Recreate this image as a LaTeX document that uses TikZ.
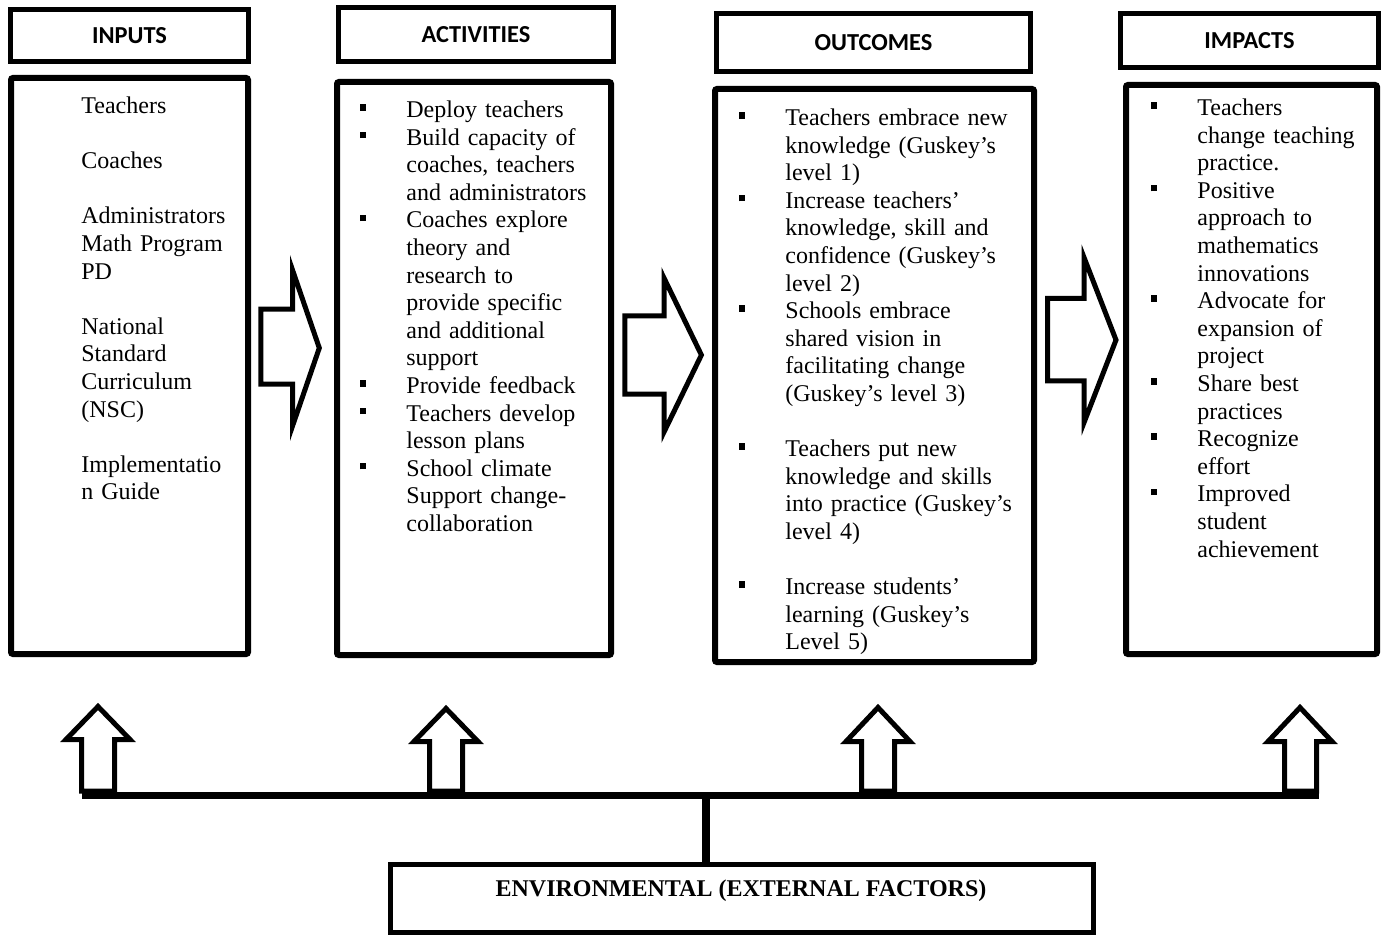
\documentclass[tikz,border=0pt]{standalone}
\usepackage{fontspec}
\setmainfont{Liberation Serif}
\newfontfamily\hdfont{Carlito}
\newcommand{\bul}{\leavevmode\llap{\rule[3.4pt]{3.2pt}{3.2pt}\hspace{20pt}}}
\newcommand{\blankline}{\mbox{}}
\tikzset{
  hdbox/.style={draw, line width=2.5pt, inner sep=0pt, font=\hdfont\bfseries\fontsize{12.2}{14}\selectfont},
  ctbox/.style={draw, line width=3pt, inner sep=0pt, rounded corners=1pt},
  bodytext/.style={anchor=north west, inner sep=0pt, text width=150pt, align=left, font=\fontsize{12}{13.8}\selectfont},
  bigarrow/.style={draw, line width=2.5pt, line join=miter, fill=white},
}
\begin{document}
\begin{tikzpicture}[x=0.5pt, y=-0.5pt]
\useasboundingbox (0,0) rectangle (1384,935);
% header boxes
\node[hdbox, minimum width=119pt, minimum height=26pt] (hin) at (129.5,35.5) {INPUTS};
\node[hdbox, minimum width=137.5pt, minimum height=27pt] (hact) at (476,34.5) {ACTIVITIES};
\node[hdbox, minimum width=157pt, minimum height=29pt] (hout) at (873.5,42.5) {OUTCOMES};
\node[hdbox, minimum width=129pt, minimum height=27pt] (himp) at (1249.5,40.5) {IMPACTS};
% content boxes
\node[ctbox, minimum width=118.5pt, minimum height=288pt] (bin) at (129.5,366) {};
\node[ctbox, minimum width=137pt, minimum height=286.5pt] (bact) at (474,368.5) {};
\node[ctbox, minimum width=159.5pt, minimum height=286.5pt] (bout) at (874.5,375.5) {};
\node[ctbox, minimum width=125.5pt, minimum height=284.5pt] (bimp) at (1251.5,369.5) {};
% texts
\node[bodytext] (tin) at (81,93.7) {\strut Teachers\\ \blankline\\ Coaches\\ \blankline\\ Administrators\\ Math Program\\ PD\\ \blankline\\ National\\ Standard\\ Curriculum\\ (NSC)\\ \blankline\\ Implementatio\\ n Guide};
\node[bodytext] (tact) at (406,97.7) {\strut\bul Deploy teachers\\ \bul Build capacity of\\ coaches, teachers\\ and administrators\\ \bul Coaches explore\\ theory and\\ research to\\ provide specific\\ and additional\\ support\\ \bul Provide feedback\\ \bul Teachers develop\\ lesson plans\\ \bul School climate\\ Support change-\\ collaboration};
\node[bodytext] (tout) at (785,105.7) {\strut\bul Teachers embrace new\\ knowledge (Guskey’s\\ level 1)\\ \bul Increase teachers’\\ knowledge, skill and\\ confidence (Guskey’s\\ level 2)\\ \bul Schools embrace\\ shared vision in\\ facilitating change\\ (Guskey’s level 3)\\ \blankline\\ \bul Teachers put new\\ knowledge and skills\\ into practice (Guskey’s\\ level 4)\\ \blankline\\ \bul Increase students’\\ learning (Guskey’s\\ Level 5)};
\node[bodytext] (timp) at (1197,95.7) {\strut\bul Teachers\\ change teaching\\ practice.\\ \bul Positive\\ approach to\\ mathematics\\ innovations\\ \bul Advocate for\\ expansion of\\ project\\ \bul Share best\\ practices\\ \bul Recognize\\ effort\\ \bul Improved\\ student\\ achievement};
% right arrows
\draw[bigarrow] (260.8,309.2) -- (292.5,309.2) -- (292.5,270) -- (319.3,348) -- (292.5,426) -- (292.5,384.2) -- (260.8,384.2) -- cycle;
\draw[bigarrow] (624.8,315.8) -- (664,315.8) -- (664,278) -- (701.4,355) -- (664,432) -- (664,394.2) -- (624.8,394.2) -- cycle;
\draw[bigarrow] (1047.5,298.5) -- (1084.2,298.5) -- (1084.2,258) -- (1116,340) -- (1084.2,422) -- (1084.2,380.8) -- (1047.5,380.8) -- cycle;
% environmental box
\node[draw, line width=2.5pt, inner sep=0pt, minimum width=351.5pt, minimum height=34pt] (env) at (742,898.5) {};
\node[inner sep=0pt, font=\bfseries\fontsize{12}{14}\selectfont] (envlabel) at (741,891) {ENVIRONMENTAL (EXTERNAL FACTORS)};
% up arrows
\draw[bigarrow] (81.5,791) -- (81.5,739.5) -- (66,739.5) -- (98,706.5) -- (130,739.5) -- (114.5,739.5) -- (114.5,791) -- cycle;
\draw[bigarrow] (429.5,791) -- (429.5,741.5) -- (414,741.5) -- (446,708.5) -- (478,741.5) -- (462.5,741.5) -- (462.5,791) -- cycle;
\draw[bigarrow] (861.5,791) -- (861.5,741.5) -- (846,741.5) -- (878,707.5) -- (910,741.5) -- (894.5,741.5) -- (894.5,791) -- cycle;
\draw[bigarrow] (1284.5,791) -- (1284.5,741.5) -- (1268,741.5) -- (1300,707.5) -- (1332,741.5) -- (1316.5,741.5) -- (1316.5,791) -- cycle;
% horizontal bar and stem
\coordinate (hl) at (82,795.5);
\coordinate (hr) at (1319,795.5);
\coordinate (hm) at (706,795.5);
\draw[line width=3.75pt] (hl) -- (hr);
\draw[line width=3.6pt] (hm) -- (hm |- env.north);
\end{tikzpicture}
\end{document}
